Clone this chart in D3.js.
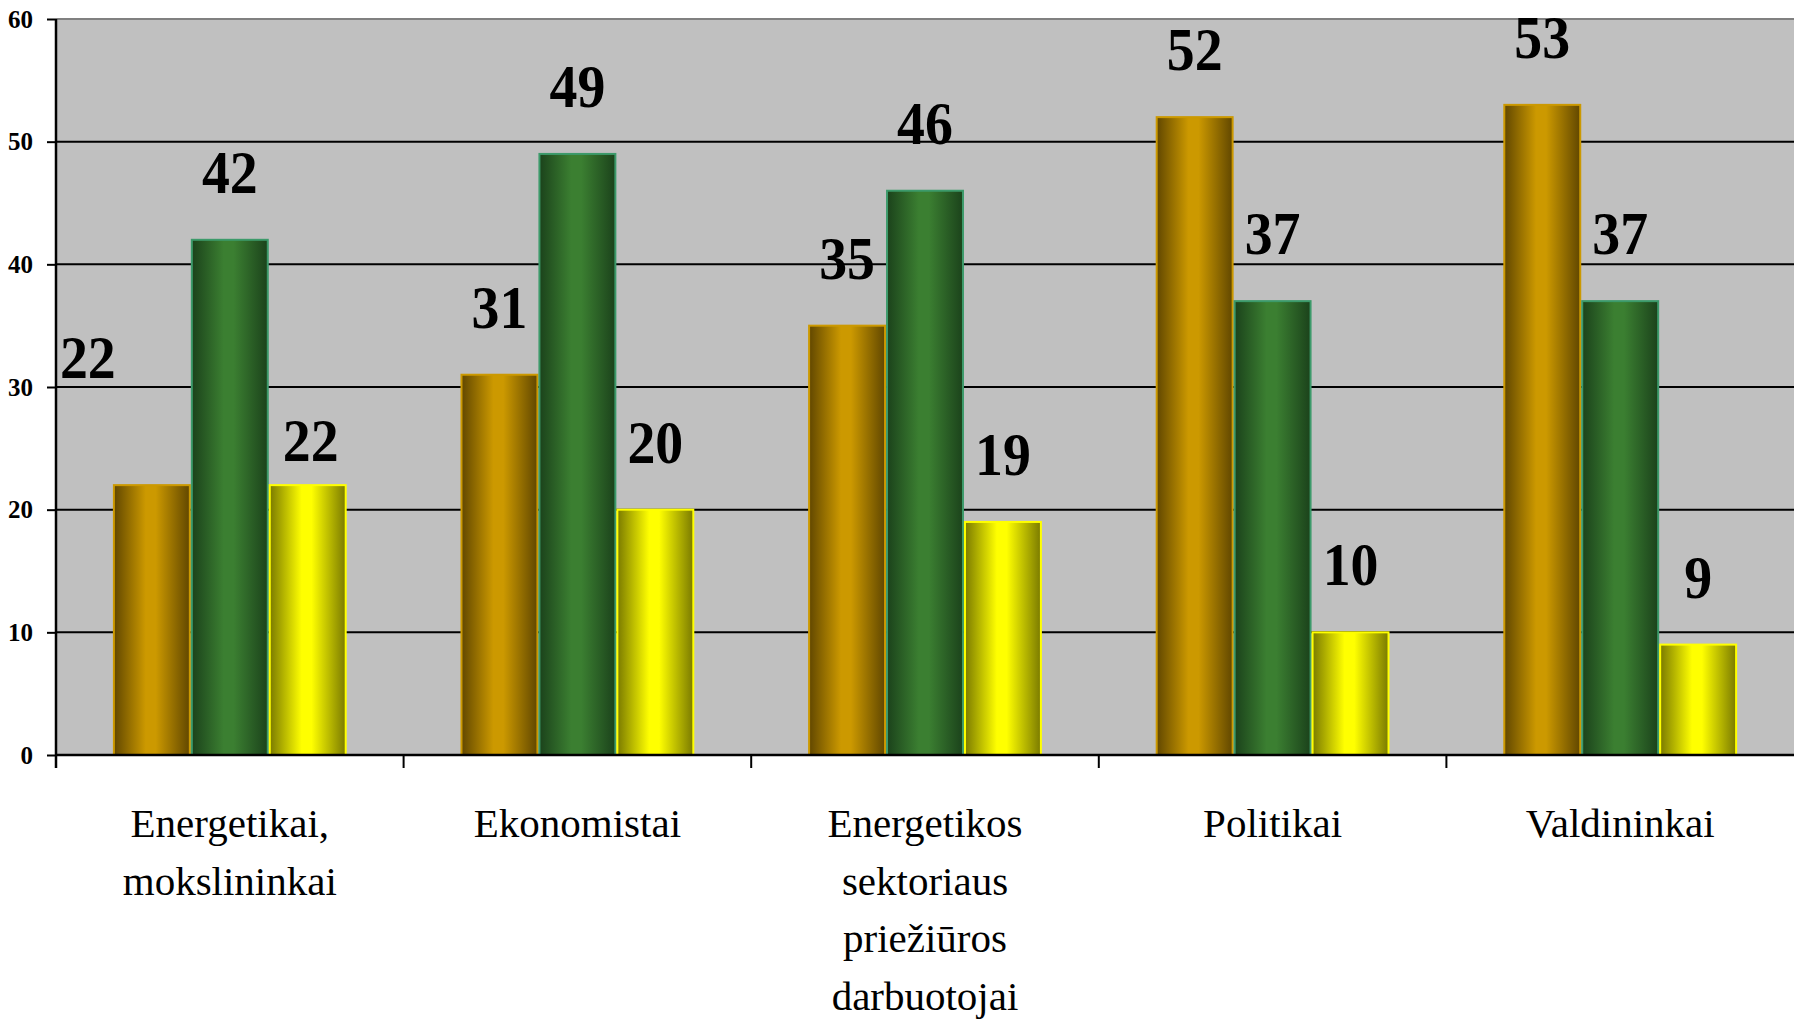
<!DOCTYPE html>
<html>
<head>
<meta charset="utf-8">
<style>
  body { margin: 0; background: #fff; }
  svg { display: block; }
  svg text { font-family: "Liberation Serif", "Times New Roman", Times, "DejaVu Serif", serif; }
</style>
</head>
<body>
  <svg width="1794" height="1020"></svg>

  <script src="https://d3js.org/d3.v7.min.js"></script>

  <script>
    // chart data
    const categories = [
      ["Energetikai,", "mokslininkai"],
      ["Ekonomistai"],
      ["Energetikos", "sektoriaus", "priežiūros", "darbuotojai"],
      ["Politikai"],
      ["Valdininkai"]
    ];
    const seriesNames = ["s1", "s2", "s3"];
    const s1Values = [22, 31, 35, 52, 53];
    const s2Values = [42, 49, 46, 37, 37];
    const s3Values = [22, 20, 19, 10, 9];
    const yTicks = [0, 10, 20, 30, 40, 50, 60];

    const svg = d3.select("svg"),
          width = +svg.attr("width"),
          height = +svg.attr("height");

    // plot area edges
    const plotL = 56, plotR = 1794, plotT = 19, plotB = 755;

    const catKeys = categories.map(c => c.join(" "));
    const values = [s1Values, s2Values, s3Values];

    // x scale for groups, inner scale for the 3 bars
    const x0 = d3.scaleBand().domain(catKeys).range([plotL, plotR]);
    const x1 = d3.scaleBand().domain(seriesNames).range([0, x0.bandwidth()]).paddingOuter(0.73);
    const y = d3.scaleLinear().domain([0, 60]).range([plotB, plotT]);

    // gradients: dark edges, bright middle
    const looks = [
      { dark: "#614700", light: "#cc9900", stroke: "#cc9900" },
      { dark: "#1b421b", light: "#3b7f31", stroke: "#3c9a6a" },
      { dark: "#7a7a00", light: "#ffff00", stroke: "#ffff00" }
    ];
    const defs = svg.append("defs");
    looks.forEach((l, i) => {
      const g = defs.append("linearGradient").attr("id", "grad" + i)
        .attr("x1", "0%").attr("x2", "100%").attr("y1", "0%").attr("y2", "0%");
      g.append("stop").attr("offset", "0%").attr("stop-color", l.dark);
      g.append("stop").attr("offset", "42%").attr("stop-color", l.light);
      g.append("stop").attr("offset", "55%").attr("stop-color", l.light);
      g.append("stop").attr("offset", "100%").attr("stop-color", l.dark);
    });

    // plot background
    svg.append("rect")
      .attr("x", plotL).attr("y", plotT)
      .attr("width", plotR - plotL).attr("height", plotB - plotT)
      .attr("fill", "#c0c0c0");

    // gridlines (top one is the grey border)
    svg.append("g").selectAll("line")
      .data(yTicks.filter(d => d > 0))
      .join("line")
      .attr("x1", plotL).attr("x2", plotR)
      .attr("y1", d => y(d)).attr("y2", d => y(d))
      .attr("stroke", d => d === 60 ? "#808080" : "#000")
      .attr("stroke-width", 2);

    // y axis
    const yAxis = svg.append("g")
      .attr("transform", `translate(${plotL},0)`)
      .call(d3.axisLeft(y).tickValues(yTicks).tickSize(9).tickPadding(14));
    yAxis.attr("font-family", null);
    yAxis.select(".domain").attr("stroke", "#000").attr("stroke-width", 2.5)
      .attr("d", `M0,${plotT}V${plotB + 13}`);
    yAxis.selectAll(".tick line").attr("stroke", "#000").attr("stroke-width", 2);
    yAxis.selectAll(".tick text")
      .attr("font-weight", "bold")
      .attr("font-size", 25)
      .attr("fill", "#000");

    // bars
    const groups = svg.append("g").selectAll("g")
      .data(catKeys)
      .join("g")
      .attr("transform", d => `translate(${x0(d)},0)`);

    groups.selectAll("rect")
      .data((c, ci) => seriesNames.map((s, si) => ({ s, si, ci, v: values[si][ci] })))
      .join("rect")
      .attr("x", d => x1(d.s) + 1)
      .attr("y", d => y(d.v))
      .attr("width", x1.bandwidth() - 2)
      .attr("height", d => y(0) - y(d.v))
      .attr("fill", d => `url(#grad${d.si})`)
      .attr("stroke", d => looks[d.si].stroke)
      .attr("stroke-width", 2);

    // value labels (two of them were moved by hand in the original)
    const nudge = { "0-0": [-64, -60], "0-2": [3, 23] };
    groups.selectAll("text.val")
      .data((c, ci) => seriesNames.map((s, si) => ({ s, si, ci, v: values[si][ci] })))
      .join("text")
      .attr("class", "val")
      .attr("transform", d => {
        const n = nudge[d.ci + "-" + d.si] || [0, 0];
        return `translate(${x1(d.s) + x1.bandwidth() / 2 + n[0]},${y(d.v) - 47 + n[1]}) scale(0.9,1)`;
      })
      .attr("text-anchor", "middle")
      .attr("font-weight", "bold")
      .attr("font-size", 62)
      .attr("fill", "#000")
      .text(d => d.v);

    // x axis line and ticks at group boundaries
    svg.append("line")
      .attr("x1", plotL).attr("x2", plotR)
      .attr("y1", plotB).attr("y2", plotB)
      .attr("stroke", "#000").attr("stroke-width", 2.5);
    svg.append("g").selectAll("line")
      .data(catKeys.slice(1))
      .join("line")
      .attr("x1", d => x0(d)).attr("x2", d => x0(d))
      .attr("y1", plotB).attr("y2", plotB + 13)
      .attr("stroke", "#000").attr("stroke-width", 2);

    // category labels, multi-line
    const catText = svg.append("g").selectAll("text")
      .data(categories)
      .join("text")
      .attr("y", 837)
      .attr("text-anchor", "middle")
      .attr("font-size", 41)
      .attr("fill", "#000");
    catText.each(function(d, i) {
      const cx = x0(catKeys[i]) + x0.bandwidth() / 2;
      d3.select(this).selectAll("tspan")
        .data(d)
        .join("tspan")
        .attr("x", cx)
        .attr("dy", (t, j) => j === 0 ? 0 : 57.5)
        .text(t => t);
    });
  </script>
</body>
</html>
